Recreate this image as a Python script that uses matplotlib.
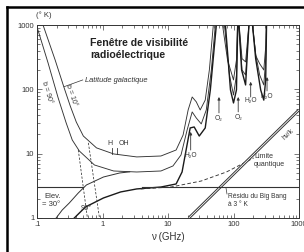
import matplotlib
matplotlib.use('Agg')
import matplotlib.pyplot as plt
from matplotlib.lines import Line2D

plt.rcParams['font.family'] = ['Liberation Sans', 'DejaVu Sans']

# ---------------- data (frequency in GHz, temperature in K) ----------------
# sky curve, galactic latitude b = 10 deg (upper U)
u1_nu = [0.1236, 0.189, 0.26, 0.322, 0.398, 0.51, 0.81, 1.48, 3.33, 7.8, 13.3, 17.0,
         20.3, 23.4, 27.0, 31.0, 37.0, 42.8, 49.2, 60, 68, 81, 100, 111, 115, 118, 122,
         135, 153, 172, 183, 195, 220, 251, 290, 312, 325, 400]
u1_T = [1000, 287, 105, 55, 31, 18.8, 12.3, 9.9, 8.9, 9.2, 11.4, 19.5,
        47.8, 76, 64, 47.8, 68, 200, 1000, 3000, 1000, 287, 140, 287, 1000, 3000, 1000,
        300, 267, 1000, 3000, 1000, 330, 250, 200, 490, 3000, 3000]

# sky curve, galactic latitude b = 90 deg (middle U)
u2_nu = [0.1, 0.1476, 0.2104, 0.279, 0.3455, 0.443, 0.753, 1.48, 3.33, 7.8, 11.9, 15.8,
         19.6, 23.4, 27.0, 32.2, 38.4, 45.9, 52.8, 60, 72.7, 86.7, 100, 111, 116, 118, 121,
         135, 153, 172, 183, 195, 218, 251, 290, 310, 325, 400]
u2_T = [934, 257, 73.5, 30, 16.3, 11.0, 6.67, 5.38, 5.19, 5.38, 6.44, 9.55,
        23.4, 44.5, 35.9, 29, 47.8, 200, 1000, 3000, 1000, 167, 81.8, 167, 1000, 3000, 1000,
        200, 167, 1000, 3000, 1000, 350, 167, 117, 287, 3000, 3000]

# atmosphere at zenith (90 deg)
u3_nu = [0.371, 0.548, 1.036, 1.89, 3.33, 7.8, 13.3, 16.4, 18.9, 21.8, 25.1, 30, 37,
         44.3, 54.7, 60, 75.3, 89.9, 100, 111, 116, 118, 121, 133, 153, 172, 183, 195,
         218, 260, 290, 310, 325, 400]
u3_T = [1, 1.48, 2.05, 2.54, 2.83, 3.03, 3.38, 5.19, 11.4, 25.1, 26, 18.8, 25.1,
        98, 1000, 3000, 1000, 98, 61.4, 98, 1000, 3000, 1000, 200, 117, 1000, 3000, 1000,
        300, 98, 68, 140, 3000, 3000]

# atmosphere at elevation 30 deg (low-frequency part)
e30_nu = [0.196, 0.2425, 0.311, 0.427, 0.568, 1.036, 1.83, 2.6]
e30_T = [1, 1.33, 1.71, 2.45, 3.26, 4.34, 5.01, 5.22]

# galactic background continued (dashed)
d1_nu = [0.427, 0.588]
d1_T = [11.4, 1]
d2_nu = [0.609, 0.899]
d2_T = [14.7, 1]

# quantum limit (dashed)
lq_nu = [3.84, 11.1, 32.2, 78, 203]
lq_T = [2.83, 3.03, 3.76, 5.19, 8.57]

# h nu / k line
hk_nu = [20.8, 1000]
hk_T = [1.0, 48.0]

# 3 K background
cmb_T = 3.0
cmb_left_nu = [0.1, 0.5]
cmb_right_nu = [4.0, 1000]

# spectral lines marked by arrows
line_nu = [22.2, 60, 118, 183, 325]
line_lbl = ['H₂O', 'O₂', 'O₂', 'H₂O', 'H₂O']
line_tail_T = [11.4, 43, 44.6, 76, 94.5]
line_head_T = [21.8, 76, 76, 131, 155]
line_text_T = [9.5, 34.7, 36, 66, 78.6]

# H and OH radio lines
hoh_nu = [1.42, 1.67]

xtick_vals = [0.1, 1, 10, 100, 1000]
xtick_lbls = ['.1', '1', '10', '100', '1000']
ytick_vals = [1, 10, 100, 1000]
ytick_lbls = ['1', '10', '100', '1000']

# ---------------- figure ----------------
W, H = 304, 252
fig = plt.figure(figsize=(W / 100, H / 100), dpi=100)
fig.patch.set_facecolor('white')
ax = fig.add_axes([37 / W, 1 - 218 / H, 262 / W, 193 / H])
ax.set_xscale('log')
ax.set_yscale('log')
ax.set_xlim(0.1, 1000)
ax.set_ylim(1, 1000)


def P(x, y):
    return (x / W, 1 - y / H)


dark = '#333333'
ax.plot(u1_nu, u1_T, color=dark, lw=0.65)
ax.plot(u2_nu, u2_T, color=dark, lw=0.65)
ax.plot(u3_nu, u3_T, color='#1a1a1a', lw=1.0)
ax.plot(e30_nu, e30_T, color=dark, lw=0.7)
ax.plot(d1_nu, d1_T, color=dark, lw=0.55, ls=(0, (3, 2)))
ax.plot(d2_nu, d2_T, color=dark, lw=0.55, ls=(0, (3, 2)))
ax.plot(lq_nu, lq_T, color=dark, lw=0.65, ls=(0, (4, 2.5)))
ax.plot(hk_nu, hk_T, color=dark, lw=2.0, solid_capstyle='butt')
ax.plot(hk_nu, hk_T, color='white', lw=0.6, solid_capstyle='butt')
ax.plot(cmb_left_nu, [cmb_T] * 2, color=dark, lw=0.8)
ax.plot(cmb_right_nu, [cmb_T] * 2, color=dark, lw=0.8)

for nu, lb, t0, t1, tt in zip(line_nu, line_lbl, line_tail_T, line_head_T, line_text_T):
    ax.annotate('', xy=(nu, t1), xytext=(nu, t0),
                arrowprops=dict(arrowstyle='-|>', lw=0.6, color=dark,
                                mutation_scale=4, shrinkA=0, shrinkB=0))
    ax.text(nu, tt, lb, ha='center', va='center', fontsize=4.8, color=dark)

for nu in hoh_nu:
    ax.plot([nu, nu], [9.9, 12.2], color=dark, lw=0.6)
ax.text(hoh_nu[0], 12.6, 'H', ha='right', va='bottom', fontsize=5, color=dark)
ax.text(hoh_nu[1] * 1.04, 12.6, 'OH', ha='left', va='bottom', fontsize=5, color=dark)

# ticks
ax.set_xticks(xtick_vals)
ax.set_xticklabels(xtick_lbls)
ax.set_yticks(ytick_vals)
ax.set_yticklabels(ytick_lbls)
ax.tick_params(which='both', direction='in', top=True, right=True, color='#444444',
               labelsize=5.5, labelcolor='#333333', width=0.5)
ax.tick_params(which='major', length=3.5, pad=2)
ax.tick_params(which='minor', length=2)
for s in ax.spines.values():
    s.set_linewidth(0.7)
    s.set_color('#333333')

# texts
fig.text(*P(36, 15), '(° K)', fontsize=5.5, color='#333333', va='center', ha='left')
fig.text(*P(168, 237), 'ν (GHz)', fontsize=7, color='#333333', va='center', ha='center')
fig.text(*P(90, 43), 'Fenêtre de visibilité', fontsize=7.6, fontweight='bold',
         color='#222222', va='center', ha='left')
fig.text(*P(90, 55), 'radioélectrique', fontsize=7.6, fontweight='bold',
         color='#222222', va='center', ha='left')
fig.text(*P(85, 80), 'Latitude galactique', fontsize=5.4, style='italic',
         color='#333333', va='center', ha='left')
ax.plot([0.26, 0.5], [110, 140], color=dark, lw=0.5)
fig.text(*P(47, 92), 'b = 90°', fontsize=5, rotation=-73, color='#333333',
         va='center', ha='center')
fig.text(*P(71, 95), 'b = 10°', fontsize=5, rotation=-71, color='#333333',
         va='center', ha='center')
fig.text(*P(44, 197), 'Elev.', fontsize=5.5, color='#333333', va='center', ha='left')
fig.text(*P(42, 205), '= 30°', fontsize=5.5, color='#333333', va='center', ha='left')
fig.text(*P(86, 208), '90°', fontsize=5.2, color='#333333', va='center', ha='center')
fig.text(*P(254, 157), 'Limite', fontsize=5, color='#333333', va='center', ha='left')
fig.text(*P(254, 165), 'quantique', fontsize=5, color='#333333', va='center', ha='left')
fig.text(*P(228, 196), 'Résidu du Big Bang', fontsize=4.8, color='#333333',
         va='center', ha='left')
fig.text(*P(228, 205), 'à 3 ° K', fontsize=4.8, color='#333333', va='center', ha='left')
fig.add_artist(Line2D([226 / W, 227 / W], [1 - 188 / H, 1 - 194 / H], color=dark, lw=0.5))
fig.text(*P(288, 134), 'hν/k', fontsize=5, rotation=43, color='#333333',
         va='center', ha='center')

# outer frame (top and left)
fig.add_artist(Line2D([7 / W, 1], [1 - 7 / H, 1 - 7 / H], color='black', lw=1.8))
fig.add_artist(Line2D([7 / W, 7 / W], [0, 1 - 7 / H], color='black', lw=1.8))

fig.savefig('out.png', dpi=100)
